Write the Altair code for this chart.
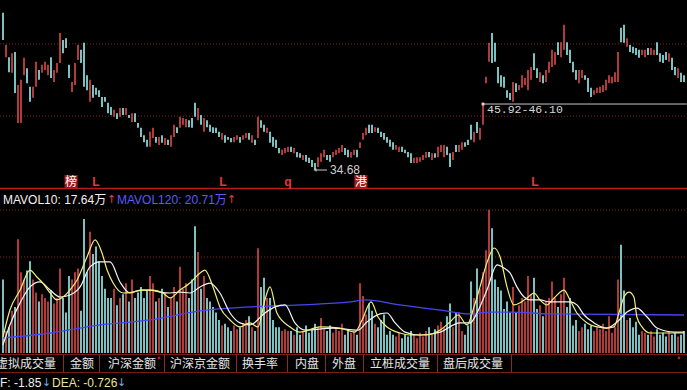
import altair as alt
import pandas as pd

W, H = 687, 390
RED = "#d04545"
CYAN = "#90e4e4"
FONT = "Liberation Sans, 'Noto Sans CJK SC', sans-serif"
CJK = "'Noto Sans CJK SC', sans-serif"

# ---------------- data ----------------
opens = [
    61.9, 54.2, 54.2, 51.5, 55.1, 42.8, 42.8, 51.1, 52.3, 49.1,
    47.2, 49.1, 52.0, 51.5, 52.0, 51.1, 54.2, 49.9, 51.5, 53.2,
    57.2, 57.5, 52.9, 48.2, 49.4, 53.7, 55.5, 56.7, 51.1, 46.5,
    49.4, 48.9, 48.5, 47.3, 47.3, 46.3, 45.6, 43.9, 44.5, 43.9,
    45.4, 44.2, 44.2, 43.0, 44.5, 42.8, 42.0, 40.7, 39.9, 38.7,
    40.2, 40.4, 39.0, 40.7, 39.0, 39.9, 38.7, 40.4, 42.1, 42.0,
    42.5, 42.1, 43.3, 43.7, 46.3, 43.3, 44.2, 41.3, 43.3, 42.5,
    42.1, 42.0, 41.3, 39.9, 40.7, 40.4,
    40.2, 39.5, 39.9, 40.4, 39.9, 40.2, 41.1, 39.4, 39.9, 40.2,
    43.3, 42.5, 41.1, 41.3, 40.4, 39.9, 38.5, 37.3, 37.6, 37.8,
    38.7, 37.6, 37.8, 37.6, 36.4, 37.3, 36.8, 36.4, 35.9, 35.2,
    36.1, 36.9, 37.3, 37.3, 36.9, 37.3, 37.6, 37.8, 38.5, 38.2,
    36.8, 37.3, 38.2, 38.5, 39.9, 40.7, 42.5, 42.5, 41.3, 42.0,
    41.3, 41.1, 40.4, 39.9, 39.5, 38.2, 37.8, 38.7, 38.2, 37.8,
    37.6, 35.9, 35.9, 36.1, 36.4, 36.8, 37.8, 36.4, 37.6, 36.9,
    37.8, 36.9, 38.7, 37.6, 36.4, 39.0,
    37.8, 38.2, 39.5, 39.9, 42.5, 39.5, 43.0, 39.9, 42.5, 49.7,
    53.4, 58.4, 56.7, 52.5, 51.1, 50.8, 48.5, 48.0, 46.5, 49.7,
    48.5, 48.9, 49.4, 48.5, 50.3, 54.9, 52.3, 49.9, 51.1, 49.9,
    51.5, 52.5, 52.9, 56.8, 54.2, 55.5, 56.8, 55.5, 53.4, 52.0,
    49.7, 50.6, 51.1, 50.6, 48.9, 47.7, 48.0, 48.0, 48.2, 48.5,
    49.7, 49.7, 49.9, 49.9, 59.3, 59.8, 56.0, 56.3, 56.0, 55.8,
    55.5, 54.6, 54.2, 55.8, 54.6, 54.6, 56.8, 54.9, 54.6, 55.1,
    53.4, 54.1, 52.5, 50.6, 51.5, 51.1,
]
closes = [
    57.2, 56.3, 51.6, 54.9, 48.0, 49.4, 50.3, 54.1, 49.7, 46.5,
    49.1, 53.4, 50.3, 52.9, 53.4, 52.9, 50.6, 52.0, 53.2, 58.4,
    54.9, 55.8, 50.6, 49.9, 53.2, 56.3, 53.2, 49.1, 48.5, 50.3,
    47.2, 47.7, 47.3, 45.6, 46.5, 44.5, 44.2, 45.1, 43.5, 45.4,
    44.2, 45.4, 43.7, 44.5, 43.0, 42.0, 40.4, 39.5, 38.7, 41.3,
    42.0, 39.4, 40.4, 39.4, 40.2, 39.0, 40.7, 42.5, 41.1, 43.9,
    43.7, 43.5, 42.1, 42.0, 43.9, 45.4, 42.5, 43.7, 42.1, 41.3,
    41.1, 41.1, 40.4, 41.1, 39.4, 39.9,
    39.5, 40.4, 40.7, 39.4, 40.7, 41.1, 39.9, 40.7, 39.0, 43.9,
    42.0, 41.3, 42.0, 39.4, 38.7, 38.5, 37.6, 38.2, 38.5, 38.7,
    37.8, 38.5, 36.9, 36.8, 37.3, 36.1, 35.9, 35.2, 34.7, 36.9,
    37.6, 38.2, 36.4, 36.1, 37.8, 38.2, 38.5, 39.0, 37.3, 36.9,
    37.8, 38.2, 36.9, 39.5, 41.1, 42.0, 41.1, 41.1, 42.1, 41.1,
    40.4, 39.9, 39.4, 38.7, 38.2, 39.0, 38.7, 37.8, 37.6, 36.9,
    35.9, 36.8, 36.9, 36.9, 37.3, 37.8, 36.9, 37.6, 36.8, 38.7,
    39.0, 39.0, 37.3, 35.2, 37.8, 37.8,
    39.0, 39.5, 38.7, 39.0, 39.9, 41.3, 41.1, 42.0, 46.1, 50.8,
    56.7, 53.2, 53.4, 49.7, 49.1, 48.9, 47.2, 46.8, 49.9, 48.2,
    49.4, 51.1, 50.6, 52.0, 52.5, 52.0, 50.6, 51.6, 49.7, 52.0,
    53.4, 55.5, 55.1, 54.6, 56.8, 59.8, 54.6, 53.2, 51.6, 50.3,
    52.0, 52.0, 50.3, 48.2, 47.3, 48.5, 48.9, 49.1, 49.4, 50.3,
    51.1, 50.8, 51.6, 55.1, 56.8, 56.7, 57.5, 55.1, 54.9, 54.6,
    54.1, 55.5, 55.5, 54.6, 55.8, 55.5, 54.6, 53.4, 53.2, 53.7,
    54.9, 52.0, 51.1, 52.3, 49.9, 49.9,
]
volumes = [  # 万
    40, 12, 14, 23, 25, 62, 44, 40, 45, 50,
    40, 33, 28, 32, 30, 28, 34, 27, 30, 46,
    30, 22, 42, 40, 44, 46, 23, 73, 44, 66,
    54, 58, 50, 42, 35, 30, 30, 35, 26, 30,
    32, 38, 28, 40, 30, 33, 36, 30, 34, 42,
    38, 28, 30, 35, 33, 25, 30, 36, 28, 47,
    35, 38, 30, 40, 69, 55, 35, 42, 30, 28,
    25, 22, 18, 15, 16, 14,
    12, 15, 13, 14, 16, 18, 20, 14, 12, 57,
    36, 41, 30, 30, 18, 14, 14, 12, 13, 12,
    12, 10, 14, 10, 12, 15, 11, 13, 16, 14,
    19, 13, 12, 15, 11, 14, 12, 16, 10, 13,
    11, 12, 10, 38, 31, 21, 27, 23, 16, 14,
    18, 21, 10, 12, 10, 9, 11, 8, 10, 9,
    12, 10, 8, 11, 9, 12, 14, 10, 13, 15,
    17, 14, 20, 27, 14, 22,
    22, 12, 10, 15, 39, 30, 46, 35, 44, 56,
    78, 68, 40, 36, 34, 24, 28, 22, 36, 22,
    26, 30, 28, 42, 32, 41, 24, 26, 20, 28,
    30, 39, 30, 25, 32, 41, 25, 30, 15, 18,
    12, 14, 16, 13, 15, 12, 14, 13, 16, 12,
    20, 11, 14, 40, 59, 34, 18, 19, 14, 17,
    10, 12, 11, 10, 12, 9, 13, 10, 11, 9,
    12, 10, 11, 9, 10, 12,
]

ma5_x = [0, 2.3, 5.7, 9, 11.3, 13.3, 15.7, 18, 20, 22.3, 24.7, 28, 30.7, 33, 34.7, 36.7, 40, 43.3, 46.7, 50,
         53.3, 55.7, 59, 62.3, 65.7, 67.3, 70, 72.3, 75.7, 79, 82.3, 85, 87.3, 89, 91.3, 95.7, 99, 105.7, 112.3, 117.3,
         119.7, 122.7, 125, 128, 132.3, 135.7, 140.7, 145.7, 149, 151.7, 154.7, 157, 159, 161.3, 163.7, 165.7, 168, 170.3, 172.3, 174.7,
         177, 179, 181.3, 183.7, 187, 189, 191.3, 194.7, 198, 201.3, 203.7, 205.3, 207, 208.7, 210.3, 211.3, 213, 215.7, 220.3, 227]
ma5_v = [8.7, 23.4, 34.3, 45.2, 41.4, 38.1, 32.7, 28.9, 30.5, 34.3, 39.8, 52.3, 61.6, 54.5, 45.2, 38.1, 32.7, 33.2, 34.3, 34.3,
         32.7, 30.0, 34.3, 38.1, 43.6, 45.2, 36.0, 25.1, 18.0, 14.2, 16.4, 14.2, 28.9, 36.0, 21.8, 14.2, 11.4, 14.2, 13.6, 11.4,
         18.0, 27.8, 19.6, 14.2, 10.9, 9.8, 9.8, 12.5, 16.9, 20.7, 15.3, 25.1, 36.0, 49.1, 57.2, 52.3, 36.0, 26.2, 27.3, 30.0,
         32.7, 28.9, 26.2, 30.0, 34.3, 28.9, 21.8, 16.4, 14.2, 13.6, 14.2, 21.8, 30.5, 33.2, 30.5, 19.6, 14.2, 10.9, 10.9, 10.9]
ma10_x = [0, 2.3, 5.7, 9, 12.3, 15.7, 19, 22.3, 25.7, 29, 32.3, 35.7, 39, 42.3, 45.7, 49, 52.3, 55.7, 59, 62.3,
          65.7, 69, 72.3, 75.7, 79, 82.3, 87.3, 90.7, 94, 97.3, 100.7, 110, 118.3, 121.3, 125.7, 128, 130.7, 134, 139, 145.7,
          152.3, 155.7, 158, 161.3, 164.7, 167, 169, 171.3, 173.7, 175.7, 179, 182.3, 185.7, 189, 191.3, 193.7, 197, 201.3, 204.7, 208,
          211.3, 214.7, 218, 223.7, 227]
ma10_v = [4.4, 15.3, 27.3, 36.0, 38.7, 34.3, 30.5, 31.6, 36.0, 46.9, 49.6, 49.6, 38.7, 32.7, 34.3, 34.3, 33.2, 32.7, 33.2, 32.7,
          36.0, 38.1, 32.7, 21.8, 16.4, 15.3, 21.8, 25.1, 26.2, 16.4, 12.5, 13.6, 12.5, 16.9, 21.3, 21.8, 16.4, 11.4, 9.8, 11.4,
          16.4, 16.4, 21.8, 34.3, 48.0, 46.3, 43.6, 36.0, 30.5, 28.9, 28.9, 27.8, 27.8, 27.8, 26.2, 20.7, 16.4, 13.6, 16.9, 22.3,
          24.5, 19.6, 13.6, 11.4, 11.4]
ma120_x = [0, 16, 32.3, 49, 65.7, 82.3, 99, 115.7, 120.7, 132.3, 145.7, 155.7, 162.3, 169, 182.3, 227]
ma120_v = [8.2, 10.9, 15.3, 18.0, 22.9, 25.1, 26.2, 27.8, 28.9, 26.2, 23.4, 21.3, 22.3, 22.3, 21.3, 20.7]

price_grid = [56.5, 44.0]
vol_grid = [77.9, 52.3]
marker_idx = [22.7, 31, 73.3, 95, 119.3, 177.3]
marker_txt = ["榜", "L", "L", "q", "港", "L"]
marker_box = [True, False, False, False, True, False]
low_idx, low_price = 104, 34.68
gap_idx, gap_price = 160, 46.10
gap_text = "45.92-46.10"
tabs = ["虚拟成交量", "金额", "沪深金额", "沪深京金额", "换手率", "内盘", "外盘", "立桩成交量", "盘后成交量"]

# ---------------- scales ----------------
xs = alt.Scale(domain=[-1, 228], range=[0, W], nice=False, zero=False)
ps = alt.Scale(domain=[31.57, 64.1], range=[188, 0], nice=False, zero=False)
vs = alt.Scale(domain=[0, 88.8], range=[353, 190], nice=False, zero=False)
X = lambda f="i": alt.X(f"{f}:Q", scale=xs, axis=None)

df = pd.DataFrame({"i": list(range(len(opens))), "o": opens, "c": closes, "v": volumes})
df["dir"] = ["up" if c >= o else "down" for o, c in zip(opens, closes)]
color = alt.Color("dir:N", scale=alt.Scale(domain=["up", "down"], range=[RED, CYAN]), legend=None)

layers = []

# grid lines
layers.append(alt.Chart(pd.DataFrame({"p": price_grid})).mark_rule(
    color="#8c2222", strokeDash=[1, 2], strokeWidth=1).encode(
    y=alt.Y("p:Q", scale=ps, axis=None), x=alt.value(0), x2=alt.value(W)))
layers.append(alt.Chart(pd.DataFrame({"p": vol_grid})).mark_rule(
    color="#8c2222", strokeDash=[1, 2], strokeWidth=1).encode(
    y=alt.Y("p:Q", scale=vs, axis=None), x=alt.value(0), x2=alt.value(W)))

# candles
base = alt.Chart(df)
layers.append(base.mark_rule(strokeWidth=1.7).encode(
    x=X(), y=alt.Y("o:Q", scale=ps, axis=None), y2="c:Q", color=color))
# volume bars
layers.append(base.mark_rule(strokeWidth=1.7).encode(
    x=X(), y=alt.Y("v:Q", scale=vs, axis=None), y2=alt.datum(0), color=color))

# MA lines
for xv, yv, col, sw in [(ma120_x, ma120_v, "#4646f0", 1.3), (ma10_x, ma10_v, "#f4f4f4", 1.2),
                        (ma5_x, ma5_v, "#f0f07a", 1.2)]:
    layers.append(alt.Chart(pd.DataFrame({"i": xv, "v": yv})).mark_line(
        color=col, strokeWidth=sw, interpolate="monotone").encode(
        x=X(), y=alt.Y("v:Q", scale=vs, axis=None)))

# panel separator
one = pd.DataFrame({"k": [0]})
layers.append(alt.Chart(one).mark_rule(color="#b81c1c", strokeWidth=1.5).encode(
    y=alt.value(188.5), x=alt.value(0), x2=alt.value(W)))

# markers row
mk = pd.DataFrame({"i": marker_idx, "t": marker_txt, "box": marker_box})
layers.append(alt.Chart(mk).transform_filter("datum.box").transform_calculate(
    a="datum.i - 2.2", b="datum.i + 2.2").mark_rect(color="#9c1a1a").encode(
    x=X("a"), x2="b:Q", y=alt.value(175), y2=alt.value(188)))
layers.append(alt.Chart(mk).transform_filter("datum.box").mark_text(
    color="#ffffff", fontSize=12, font=CJK, baseline="middle").encode(
    x=X(), y=alt.value(182), text="t:N"))
layers.append(alt.Chart(mk).transform_filter("!datum.box").mark_text(
    color="#e03a3a", fontSize=12, font=FONT, fontWeight="bold", baseline="middle").encode(
    x=X(), y=alt.value(182), text="t:N"))

# low annotation
low = pd.DataFrame({"i": [low_idx], "i2": [low_idx + 4], "p": [low_price], "t": [f"{low_price:.2f}"]})
layers.append(alt.Chart(low).mark_rule(color="#c8c8c8", strokeWidth=1).encode(
    x=X(), x2="i2:Q", y=alt.Y("p:Q", scale=ps, axis=None)))
layers.append(alt.Chart(low).mark_point(shape="triangle-left", size=14, filled=True, color="#c8c8c8").encode(
    x=X(), y=alt.Y("p:Q", scale=ps, axis=None)))
layers.append(alt.Chart(low).mark_text(color="#d0d0d0", fontSize=12, font=FONT, align="left",
                                       baseline="middle", dx=15).encode(
    x=X(), y=alt.Y("p:Q", scale=ps, axis=None), text="t:N"))

# gap annotation
gap = pd.DataFrame({"i": [gap_idx], "i2": [227.9], "p": [gap_price], "t": [gap_text]})
layers.append(alt.Chart(gap).mark_rule(color="#c8c8c8", strokeWidth=1).encode(
    x=X(), x2="i2:Q", y=alt.Y("p:Q", scale=ps, axis=None)))
layers.append(alt.Chart(gap).mark_square(size=8, color="#f0d0d0", opacity=1).encode(
    x=X(), y=alt.Y("p:Q", scale=ps, axis=None)))
layers.append(alt.Chart(gap).mark_text(color="#d8d8d8", fontSize=11.5, font="Liberation Mono, monospace",
                                       align="left", baseline="middle", dx=4, dy=6).encode(
    x=X(), y=alt.Y("p:Q", scale=ps, axis=None), text="t:N"))


def label(s, x, y, col, size=12, font=FONT, align="left", weight="normal"):
    return alt.Chart(one).mark_text(text=s, color=col, fontSize=size, font=font, align=align,
                                    baseline="middle", fontWeight=weight).encode(
        x=alt.value(x), y=alt.value(y))


# volume header
layers.append(label("MAVOL10: 17.64万", 3, 200, "#f2f2f2"))
layers.append(label("↑", 107, 200, "#e04040", font="DejaVu Sans", size=11))
layers.append(label("MAVOL120: 20.71万", 117, 200, "#5a5aff"))
layers.append(label("↑", 227, 200, "#e04040", font="DejaVu Sans", size=11))

# tab bar
layers.append(alt.Chart(one).mark_rule(color="#7a1c1c", strokeWidth=1).encode(
    y=alt.value(354.5), x=alt.value(0), x2=alt.value(W)))
layers.append(alt.Chart(one).mark_rule(color="#7a1c1c", strokeWidth=1).encode(
    y=alt.value(372.5), x=alt.value(0), x2=alt.value(W)))
tab_x = [-4, 70, 108, 170, 242, 295, 332, 370, 443]
sep_x = [63.5, 99.5, 164.5, 236.5, 287.5, 325.5, 363.5, 437.5, 511.5]
for t, tx in zip(tabs, tab_x):
    layers.append(label(t, tx, 363.5, "#e6e6e6", size=12, font=CJK))
for sx in sep_x:
    layers.append(alt.Chart(one).mark_rule(color="#8a2a2a", strokeWidth=1).encode(
        x=alt.value(sx), y=alt.value(355), y2=alt.value(372)))
layers.append(alt.Chart(one).mark_point(shape="circle", filled=True, size=8, color="#ff3030").encode(
    x=alt.value(159), y=alt.value(358)))
layers.append(alt.Chart(one).mark_point(shape="circle", filled=True, size=8, color="#ff3030").encode(
    x=alt.value(679), y=alt.value(358)))

# bottom indicator line
layers.append(label("F: -1.85", 0, 383, "#f0f0f0"))
layers.append(label("↓", 42, 383, "#6aaee0", font="DejaVu Sans", size=11))
layers.append(label("DEA: -0.726", 52, 383, "#ece49a"))
layers.append(label("↓", 117, 383, "#6aaee0", font="DejaVu Sans", size=11))

chart = alt.layer(*layers).resolve_scale(y="independent").properties(
    width=W, height=H, padding=0, autosize="none", background="#000000"
).configure_view(stroke=None)

chart.save("out.html", embed_options={"renderer": "svg", "actions": False})
